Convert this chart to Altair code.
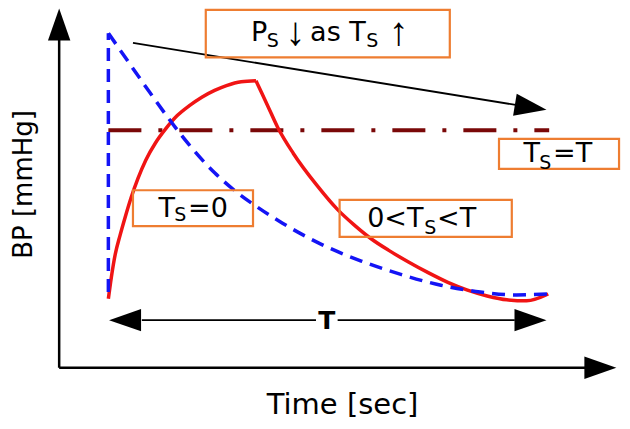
import altair as alt
import pandas as pd

# ---------------- data (image-style coordinates: x to the right, y downward) -------------
# dashed blue curve (Ts = 0): vertical rise, then decay
blue_rise_x = [105]
blue_rise_y = [295]
blue_rise_y2 = [28]
blue_x = [105, 127, 147, 167, 187, 213, 233, 253, 282, 322, 362, 403, 443, 483, 520, 552]
blue_y = [28, 60, 89, 117, 143, 172, 190, 205, 224, 246, 263, 277, 288, 295, 298, 297]

# solid red curve (0 < Ts < T): rise (ejection), then decay
red_x = [105, 108, 112, 117, 122, 128, 135, 143, 153, 163, 175, 187, 200, 213, 225, 240, 255]
red_y = [302, 280, 256, 236, 218, 198, 178, 159, 141, 127, 113, 103, 94, 87, 82, 78, 77]
red2_x = [255, 261, 267, 277, 293, 317, 338, 355, 372, 390, 410, 430, 450, 470, 490, 510, 530, 552]
red2_y = [77, 90, 103, 125, 152, 185, 210, 226, 240, 252, 264, 275, 285, 293, 299, 303, 304, 297]

# dash-dot level (Ts = T)
level_x = [105, 553]
level_y = [128, 128]

# straight black segments: y axis, x axis, T span (two halves), trend arrow
seg_x = [55, 55, 139, 338, 130]
seg_y = [373, 373, 324, 324, 38]
seg_x2 = [55, 592, 316, 518, 519]
seg_y2 = [35, 373, 324, 324, 102]
seg_w = [2.5, 2.5, 1.8, 1.8, 1.8]

# arrow heads (centre + direction in degrees, clockwise from right)
head_x = [55, 605, 122, 534, 534.2]
head_y = [19, 373, 324, 324, 104.4]
head_angle = [270, 0, 180, 0, 9.3]

# orange annotation boxes
box_x = [204, 502, 130, 340]
box_x2 = [452, 624, 252, 515]
box_y = [4, 137, 190, 200]
box_y2 = [53, 168, 227, 238]

# text pieces inside the boxes (left edge, baseline, font size)
piece_text = ["P", "S", "as T", "S",
              "T", "S", "=T",
              "T", "S", "=0",
              "0<T", "S", "<T"]
piece_x = [250, 266, 310, 367,
           527, 543, 557,
           156, 172, 186,
           368, 426, 439]
piece_y = [36, 42, 36, 42,
           161, 168, 161,
           218, 222, 218,
           228, 235, 228]
piece_size = [27, 19, 27, 19,
              27, 19, 27,
              27, 19, 27,
              27, 19, 27]

arrow_text = ["↓", "↑"]
arrow_x = [285, 390]
arrow_y = [40, 40]

# ---------------- chart ----------------
W, H = 614, 413
xs = alt.Scale(domain=[3, 627], nice=False, zero=False)
ys = alt.Scale(domain=[2, 428], nice=False, zero=False, reverse=True)
FONT = "DejaVu Sans"
BLUE = "#1414F5"


def X(f="x"):
    return alt.X(f"{f}:Q", scale=xs, axis=None)


def Y(f="y"):
    return alt.Y(f"{f}:Q", scale=ys, axis=None)


blue_rise_df = pd.DataFrame({"x": blue_rise_x, "y": blue_rise_y, "y2": blue_rise_y2})
blue_df = pd.DataFrame({"x": blue_x, "y": blue_y})
red_df = pd.DataFrame({"x": red_x, "y": red_y})
red2_df = pd.DataFrame({"x": red2_x, "y": red2_y})
level_df = pd.DataFrame({"x": level_x, "y": level_y})
seg_df = pd.DataFrame({"x": seg_x, "y": seg_y, "x2": seg_x2, "y2": seg_y2, "w": seg_w})
head_df = pd.DataFrame({"x": head_x, "y": head_y, "a": head_angle})
box_df = pd.DataFrame({"x": box_x, "x2": box_x2, "y": box_y, "y2": box_y2})
piece_df = pd.DataFrame({"t": piece_text, "x": piece_x, "y": piece_y, "s": piece_size})
arrow_df = pd.DataFrame({"t": arrow_text, "x": arrow_x, "y": arrow_y})
time_df = pd.DataFrame({"t": ["Time [sec]"], "x": [343], "y": [421]})
bp_df = pd.DataFrame({"t": ["BP [mmHg]"], "x": [27], "y": [184]})
tlab_df = pd.DataFrame({"t": ["T"], "x": [327], "y": [333]})

level = alt.Chart(level_df).mark_line(
    color="#7A0808", strokeWidth=4, strokeDash=[33, 17, 4, 17]
).encode(x=X(), y=Y())

red = alt.Chart(red_df).mark_line(
    color="#F01414", strokeWidth=3.5, interpolate="monotone"
).encode(x=X(), y=Y())

red2 = alt.Chart(red2_df).mark_line(
    color="#F01414", strokeWidth=3.5, interpolate="monotone"
).encode(x=X(), y=Y())

blue_rise = alt.Chart(blue_rise_df).mark_rule(
    color=BLUE, strokeWidth=3.5, strokeDash=[13, 8]
).encode(x=X(), y=Y(), y2="y2:Q")

blue = alt.Chart(blue_df).mark_line(
    color=BLUE, strokeWidth=3.5, strokeDash=[13, 8], interpolate="monotone"
).encode(x=X(), y=Y())

segs = alt.Chart(seg_df).mark_rule(color="black").encode(
    x=X(), y=Y(), x2="x2:Q", y2="y2:Q",
    strokeWidth=alt.StrokeWidth("w:Q", scale=None, legend=None)
)

heads = alt.Chart(head_df).mark_point(
    shape="M1,0L-1,-0.7L-1,0.7Z", filled=True, color="black", opacity=1, size=1024
).encode(x=X(), y=Y(), angle=alt.Angle("a:Q", scale=None))

boxes = alt.Chart(box_df).mark_rect(
    fillOpacity=0, stroke="#EE7D31", strokeWidth=2.2
).encode(x=X(), x2="x2:Q", y=Y(), y2="y2:Q")

pieces = alt.Chart(piece_df).mark_text(
    font=FONT, align="left", baseline="alphabetic", color="black"
).encode(x=X(), y=Y(), text="t:N", size=alt.Size("s:Q", scale=None, legend=None))

arrows = alt.Chart(arrow_df).mark_text(
    font="Liberation Sans", align="left", baseline="alphabetic", color="black", fontSize=40
).encode(x=X(), y=Y(), text="t:N")

time_lab = alt.Chart(time_df).mark_text(
    font=FONT, align="center", baseline="alphabetic", fontSize=29, color="black"
).encode(x=X(), y=Y(), text="t:N")

bp_lab = alt.Chart(bp_df).mark_text(
    font=FONT, align="center", baseline="alphabetic", fontSize=26, angle=270, color="black"
).encode(x=X(), y=Y(), text="t:N")

t_lab = alt.Chart(tlab_df).mark_text(
    font=FONT, align="center", baseline="alphabetic", fontSize=25, fontWeight="bold", color="black"
).encode(x=X(), y=Y(), text="t:N")

chart = alt.layer(
    level, red, red2, blue_rise, blue, segs, heads, boxes, pieces, arrows, time_lab, bp_lab, t_lab
).properties(
    width=W, height=H, padding=0, autosize=alt.AutoSizeParams(type="none")
).configure_view(strokeWidth=0)

chart.save("out.html", embed_options={"renderer": "svg", "actions": False})
